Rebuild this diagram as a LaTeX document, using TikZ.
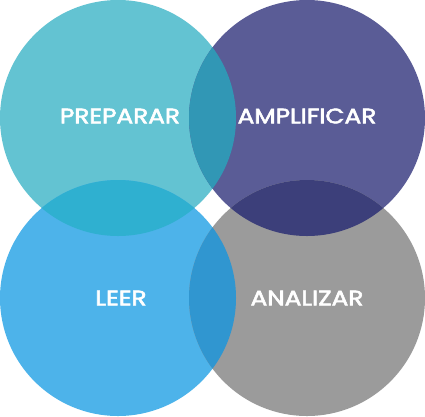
\documentclass[tikz,border=0pt]{standalone}
\usepackage{fontspec}
\setmainfont{Poppins}[FakeBold=2.5]
\definecolor{cTL}{HTML}{63C3D2}
\definecolor{cTR}{HTML}{5A5C96}
\definecolor{cBL}{HTML}{4DB3EA}
\definecolor{cBR}{HTML}{9B9B9B}
\definecolor{cTLTR}{HTML}{3197B5}
\definecolor{cTLBL}{HTML}{2FB0D0}
\definecolor{cTRBR}{HTML}{3C3F7A}
\definecolor{cBLBR}{HTML}{3096D0}
\begin{document}
\begin{tikzpicture}[x=1pt,y=-1pt,
  lbl/.style={text=white,font=\fontsize{21}{22}\selectfont,inner sep=0pt,xscale=1.18}]
\useasboundingbox (0,0) rectangle (425,416);
\def\R{118}
\coordinate (tl) at (118,118);
\coordinate (tr) at (307,118);
\coordinate (bl) at (118,298);
\coordinate (br) at (307,298);
\fill[cTL] (tl) circle (\R);
\fill[cTR] (tr) circle (\R);
\fill[cBL] (bl) circle (\R);
\fill[cBR] (br) circle (\R);
\begin{scope}\clip (tl) circle (\R); \fill[cTLTR] (tr) circle (\R); \end{scope}
\begin{scope}\clip (tl) circle (\R); \fill[cTLBL] (bl) circle (\R); \end{scope}
\begin{scope}\clip (tr) circle (\R); \fill[cTRBR] (br) circle (\R); \end{scope}
\begin{scope}\clip (bl) circle (\R); \fill[cBLBR] (br) circle (\R); \end{scope}
\node[lbl] (p) at (120,116) {PREPARAR};
\node[lbl] (a) at (307,116) {AMPLIFICAR};
\node[lbl] (l) at (121,298) {LEER};
\node[lbl] (z) at (307,298) {ANALIZAR};
\end{tikzpicture}
\end{document}
